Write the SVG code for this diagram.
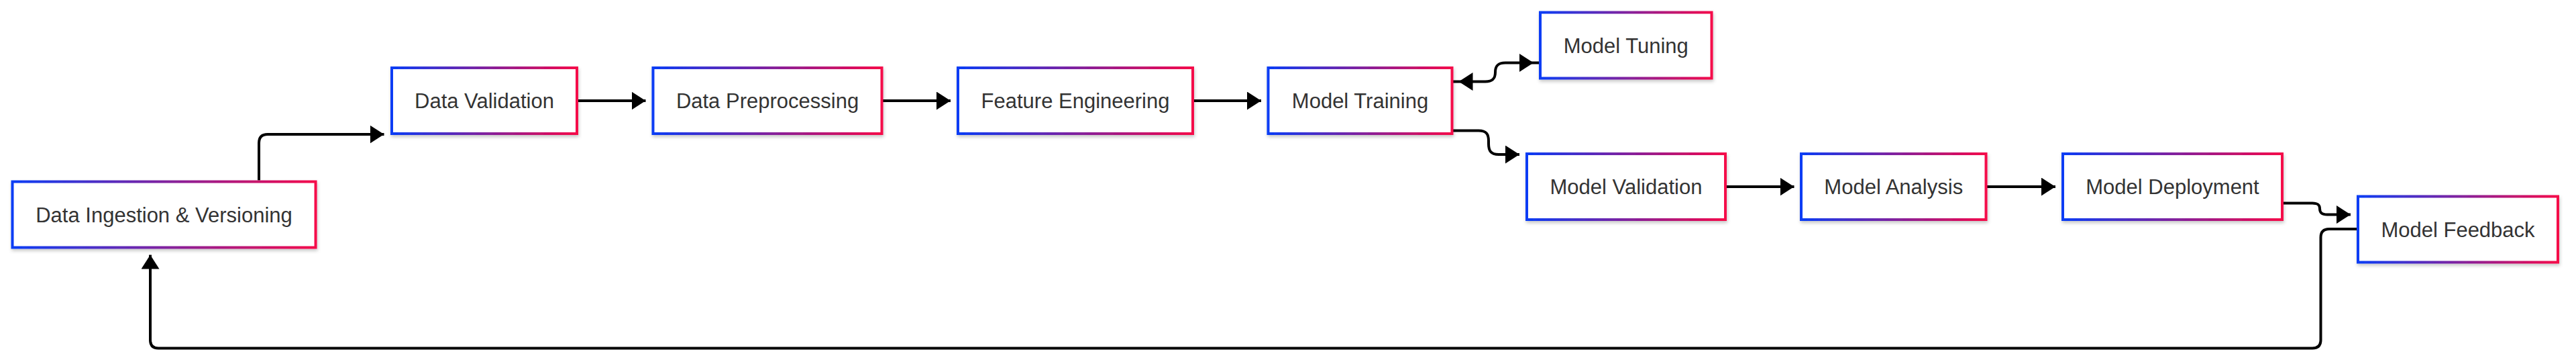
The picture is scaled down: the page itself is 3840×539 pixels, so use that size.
<svg xmlns="http://www.w3.org/2000/svg" width="3840" height="539" viewBox="0 0 3840 539">
<style>
.box{fill:#ffffff;stroke:url(#grad);stroke-width:4;filter:url(#shadow);}
.lbl{font-family:"Liberation Sans",Arial,sans-serif;font-size:31px;fill:#333333;text-anchor:middle;}
.edge{fill:none;stroke:#000000;stroke-width:4;}
.arrow{marker-end:url(#arrowEnd);}
</style>
<defs>
<linearGradient id="grad" x1="0" y1="0" x2="1" y2="0">
<stop offset="0" stop-color="#0a3cf5"/>
<stop offset="1" stop-color="#f5084a"/>
</linearGradient>
<filter id="shadow" x="-10%" y="-20%" width="120%" height="150%">
<feDropShadow dx="1" dy="3" stdDeviation="2.5" flood-color="#000000" flood-opacity="0.22"/>
</filter>
<marker id="arrowEnd" markerUnits="userSpaceOnUse" viewBox="0 0 21 27" markerWidth="21" markerHeight="27" refX="21" refY="13.5" orient="auto">
<path d="M0,0 L21,13.5 L0,27 z" fill="#000000"/>
</marker>
<marker id="arrowOff" markerUnits="userSpaceOnUse" viewBox="0 0 31 27" markerWidth="31" markerHeight="27" refX="31" refY="13.5" orient="auto-start-reverse">
<path d="M0,0 L21,13.5 L0,27 z" fill="#000000"/>
</marker>
</defs>
<rect width="3840" height="539" fill="#ffffff"/>
<g id="connectors">
<path class="edge arrow" d="M386,268.5 L386,213 Q386,200 399,200 L572.5,200"/>
<path class="edge arrow" d="M860,150 L962.5,150"/>
<path class="edge arrow" d="M1314.5,150 L1417,150"/>
<path class="edge arrow" d="M1778,150 L1880,150"/>
<path class="edge" style="marker-start:url(#arrowOff);marker-end:url(#arrowOff)" d="M2164.5,121.5 L2214,121.5 C2226,121.5 2229,116 2229,107.5 C2229,99 2232,93.5 2244,93.5 L2296,93.5"/>
<path class="edge arrow" d="M2164.5,194.5 L2204,194.5 C2216,194.5 2219,200 2219,210 L2219,214 C2219,224 2222,230 2234,230 L2265,230"/>
<path class="edge arrow" d="M2572,278 L2674.5,278"/>
<path class="edge arrow" d="M2960.5,278 L3064,278"/>
<path class="edge arrow" d="M3402,302.5 L3447,302.5 C3455,302.5 3458,305 3458,310.5 C3458,316.5 3461,319.5 3469,319.5 L3504,319.5"/>
<path class="edge arrow" d="M3515,341 L3472,341 Q3459.5,341 3459.5,353.5 L3459.5,506 Q3459.5,518.5 3447,518.5 L236,518.5 Q224,518.5 224,506 L224,379.5"/>
</g>
<g id="node-DI"><rect class="box" x="18.5" y="270.5" width="452" height="98"/><text class="lbl" x="244.5" y="330.5">Data Ingestion &amp; Versioning</text></g>
<g id="node-DV"><rect class="box" x="584" y="101" width="276" height="98"/><text class="lbl" x="722" y="161">Data Validation</text></g>
<g id="node-DP"><rect class="box" x="973.5" y="101" width="341" height="98"/><text class="lbl" x="1144" y="161">Data Preprocessing</text></g>
<g id="node-FE"><rect class="box" x="1428" y="101" width="350" height="98"/><text class="lbl" x="1603" y="161">Feature Engineering</text></g>
<g id="node-MT"><rect class="box" x="1890.5" y="101" width="274" height="98"/><text class="lbl" x="2027.5" y="161">Model Training</text></g>
<g id="node-TU"><rect class="box" x="2296" y="18.5" width="255.5" height="98"/><text class="lbl" x="2423.75" y="78.5">Model Tuning</text></g>
<g id="node-MV"><rect class="box" x="2276" y="229" width="296" height="98"/><text class="lbl" x="2424" y="289">Model Validation</text></g>
<g id="node-MA"><rect class="box" x="2685" y="229" width="275.5" height="98"/><text class="lbl" x="2822.75" y="289">Model Analysis</text></g>
<g id="node-MD"><rect class="box" x="3075" y="229" width="327" height="98"/><text class="lbl" x="3238.5" y="289">Model Deployment</text></g>
<g id="node-MF"><rect class="box" x="3515" y="292.5" width="298" height="98"/><text class="lbl" x="3664" y="352.5">Model Feedback</text></g>
</svg>
